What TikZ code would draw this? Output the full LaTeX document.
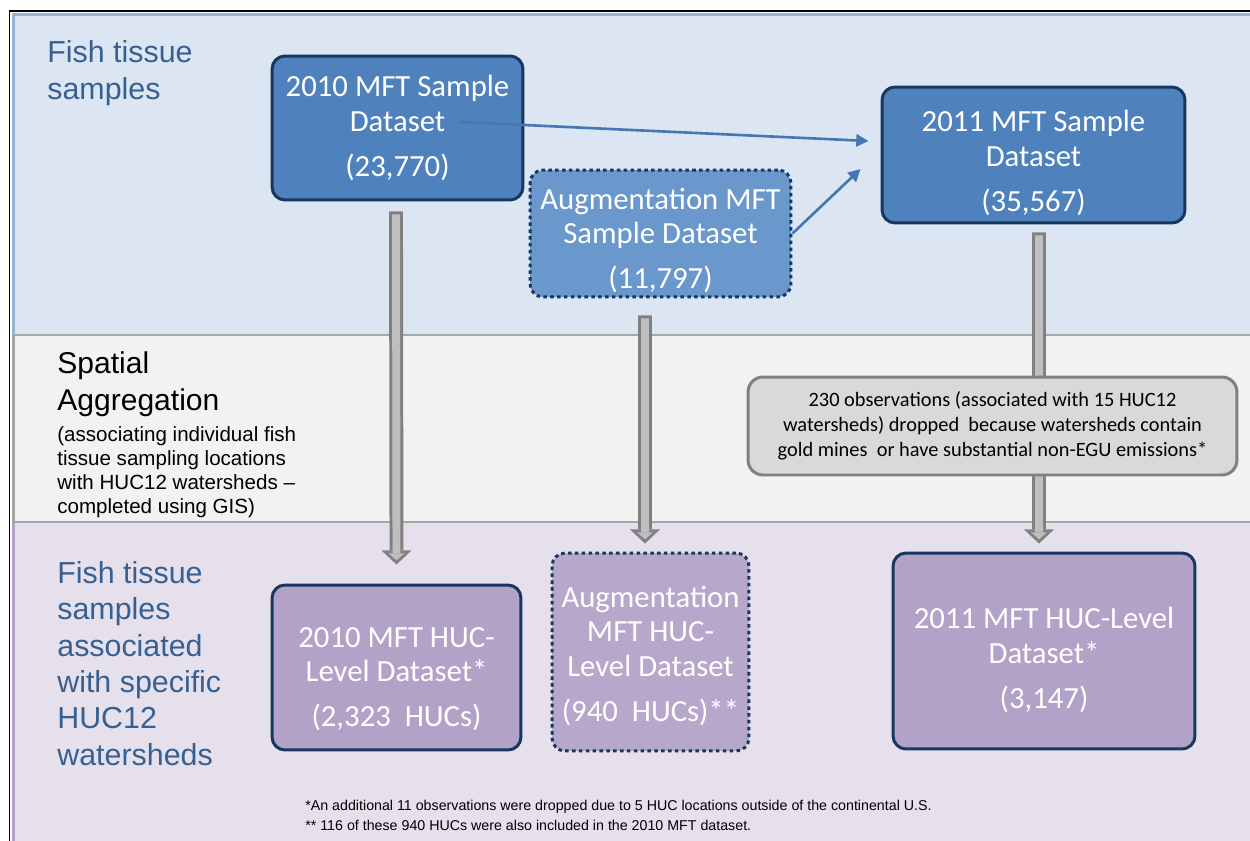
\documentclass[tikz,border=0pt]{standalone}
\usepackage{fontspec}
\usepackage{tikz}
\usepackage{color}
\usetikzlibrary{arrows.meta}
\setmainfont{Liberation Sans}
\newfontfamily\boxfont{Carlito}

\definecolor{bandblue}{HTML}{DCE6F2}
\definecolor{bandblueline}{HTML}{95B3D7}
\definecolor{bandgray}{HTML}{F2F2F2}
\definecolor{bandlilac}{HTML}{E6E0EC}
\definecolor{bandlilacline}{HTML}{B3A2C7}
\definecolor{divgray}{HTML}{A6A6A6}
\definecolor{sampleblue}{HTML}{4F81BD}
\definecolor{linkblue}{HTML}{4677B4}
\definecolor{augblue}{HTML}{6A97CC}
\definecolor{hucpurple}{HTML}{B3A2C7}
\definecolor{augpurple}{HTML}{B7A7CB}
\definecolor{navy}{HTML}{17375E}
\definecolor{notegray}{HTML}{D9D9D9}
\definecolor{noteline}{HTML}{808080}
\definecolor{shaftgray}{HTML}{BFBFBF}
\definecolor{labelblue}{HTML}{376092}

% hollow gray arrow between two points
\newcommand{\grayarrow}[2]{%
 \draw[line width=7.9pt, noteline, -{Triangle[width=17pt,length=8pt,line width=0pt]}] #1 -- #2;
 \draw[line width=4.5pt, shaftgray, shorten <=1.7pt, shorten >=2.4pt, -{Triangle[width=9pt,length=4pt,line width=0pt]}] #1 -- #2;
}
% pushes the first line of a box text down
\newcommand{\toproom}[1]{\rule{0pt}{#1}}

\begin{document}
\begin{tikzpicture}[x=0.02cm, y=-0.02cm,
 dataset/.style={draw=navy, line width=1.7pt, rounded corners=0.26cm, text=white, align=center, inner sep=0pt, font=\boxfont\fontsize{17.5pt}{19.8pt}\selectfont},
 sample/.style={dataset, fill=sampleblue},
 huc/.style={dataset, fill=hucpurple},
 dotted border/.style={dash pattern=on 2pt off 1.9pt},
 dropnote/.style={draw=noteline, fill=notegray, line width=1.7pt, rounded corners=0.3cm, align=center, inner sep=0pt, font=\boxfont\fontsize{11.6pt}{14.2pt}\selectfont},
 rowlabel/.style={anchor=north west, inner sep=0pt, align=left, text=labelblue, font=\fontsize{17.3pt}{21pt}\selectfont},
 bluearrow/.style={linkblue, line width=1.5pt, -{Triangle[width=7pt,length=7pt]}}]
%\draw[help lines] (0,0) grid[step=50] (1250,841);
\useasboundingbox (0,0) rectangle (1250,841);
\clip (0,0) rectangle (1250,841);

% bands
\fill[bandblue] (12,13) rectangle (1280,335);
\fill[bandgray] (12,335) rectangle (1280,522);
\fill[bandlilac] (12,522) rectangle (1280,900);
\draw[bandblueline, line width=1.7pt] (13.5,335) -- (13.5,14.5) -- (1280,14.5);
\draw[divgray, line width=1.7pt] (13.5,335) -- (13.5,522);
\draw[bandlilacline, line width=1.7pt] (13.5,522) -- (13.5,900);
\draw[divgray, line width=1.7pt] (12,335) -- (1280,335);
\draw[divgray, line width=1.7pt] (12,522) -- (1280,522);
\draw[line width=1.1pt] (9.5,11) rectangle (1280,900);

% row texts
\node[rowlabel] (ftsamples) at (47,40) {Fish tissue\\samples};
\node[rowlabel, text=black, font=\fontsize{17.1pt}{21pt}\selectfont] (spatial) at (57,351) {Spatial\\Aggregation};
\node[rowlabel, text=black, font=\fontsize{11.7pt}{13.8pt}\selectfont] (spatialnote) at (57,426)
 {(associating individual fish\\tissue sampling locations\\with HUC12 watersheds --\\completed using GIS)};
\node[rowlabel, font=\fontsize{17.3pt}{20.7pt}\selectfont] (fthuc) at (57,561)
 {Fish tissue\\samples\\associated\\with specific\\HUC12\\watersheds};

% sample datasets
\node[sample, minimum width=5.02cm, minimum height=2.88cm] (s2010) at (397.5,128)
 {2010 MFT Sample\\Dataset\\[5.7pt](23,770)};
\node[sample, fill=augblue, dotted border, minimum width=5.22cm, minimum height=2.54cm] (saug) at (660.5,233.5)
 {\toproom{20pt}Augmentation MFT\\Sample Dataset\\[5.7pt](11,797)};
\node[sample, minimum width=6.06cm, minimum height=2.72cm] (s2011) at (1033.5,155)
 {\toproom{21pt}2011 MFT Sample\\Dataset\\[5.7pt](35,567)};

% HUC-level datasets
\node[huc, minimum width=4.98cm, minimum height=3.3cm] (h2010) at (396.5,667.5)
 {\toproom{24.4pt}2010 MFT HUC-\\Level Dataset*\\[5.7pt](2,323~~HUCs)};
\node[huc, fill=augpurple, dotted border, minimum width=3.94cm, minimum height=3.96cm] (haug) at (650.5,652)
 {\toproom{16.5pt}Augmentation\\MFT HUC-\\Level Dataset\\[5.7pt](940~~HUCs)**};
\node[huc, minimum width=6.04cm, minimum height=3.92cm] (h2011) at (1044,651)
 {\toproom{22.2pt}2011 MFT HUC-Level\\Dataset*\\[5.7pt](3,147)};

% flow
\draw[bluearrow] ([xshift=-1.3cm,yshift=0.12cm]s2010.east) -- ([xshift=-0.24cm,yshift=0.28cm]s2011.west);
\draw[bluearrow] (saug.east) -- ([xshift=-0.4cm,yshift=-0.28cm]s2011.west);
\grayarrow{([xshift=-0.03cm,yshift=-0.2cm]s2010.south)}{([yshift=0.38cm]h2010.north)}
\grayarrow{([xshift=-0.31cm,yshift=-0.34cm]saug.south)}{([xshift=-0.11cm,yshift=0.16cm]haug.north)}
\grayarrow{([xshift=0.11cm,yshift=-0.16cm]s2011.south)}{([xshift=-0.1cm,yshift=0.16cm]h2011.north)}

\node[dropnote, minimum width=9.78cm, minimum height=1.96cm] (drop) at (992.5,426)
 {230 observations (associated with 15 HUC12\\watersheds) dropped\ \ because watersheds contain\\gold mines\ \ or have substantial non-EGU emissions*};

% footnotes
\node[anchor=north west, inner sep=0pt, align=left, font=\fontsize{8.1pt}{11.3pt}\selectfont] (notes) at (305,800)
 {*An additional 11 observations were dropped due to 5 HUC locations outside of the continental U.S.\\
 ** 116 of these 940 HUCs were also included in the 2010 MFT dataset.};
\end{tikzpicture}
\end{document}
